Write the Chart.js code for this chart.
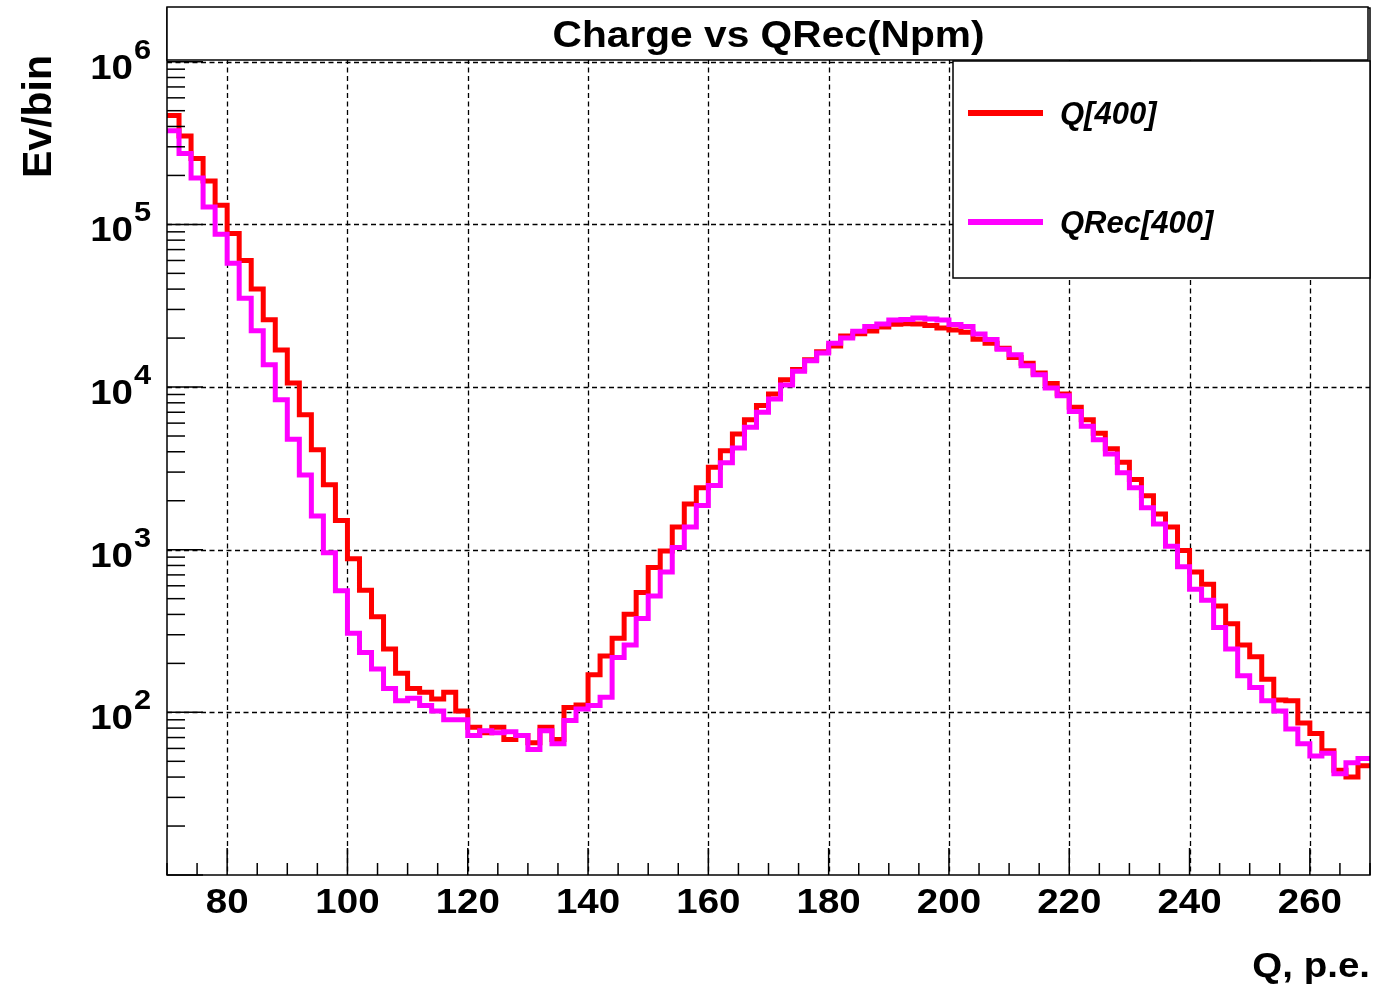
<!DOCTYPE html>
<html>
<head>
<meta charset="utf-8">
<title>Charge vs QRec(Npm)</title>
<script src="https://cdn.jsdelivr.net/npm/chart.js@4.4.1/dist/chart.umd.min.js"></script>
<style>
  html, body { margin: 0; padding: 0; background: #fff; }
  #wrap { position: relative; width: 1384px; height: 990px; }
</style>
</head>
<body>
<div id="wrap"><canvas id="chart"></canvas></div>
<script>
// histogram bins: lower edge in p.e., bin width 2
var binEdges = [70, 72, 74, 76, 78, 80, 82, 84, 86, 88, 90, 92, 94, 96, 98, 100, 102, 104, 106, 108,
  110, 112, 114, 116, 118, 120, 122, 124, 126, 128, 130, 132, 134, 136, 138, 140, 142, 144, 146, 148,
  150, 152, 154, 156, 158, 160, 162, 164, 166, 168, 170, 172, 174, 176, 178, 180, 182, 184, 186, 188,
  190, 192, 194, 196, 198, 200, 202, 204, 206, 208, 210, 212, 214, 216, 218, 220, 222, 224, 226, 228,
  230, 232, 234, 236, 238, 240, 242, 244, 246, 248, 250, 252, 254, 256, 258, 260, 262, 264, 266, 268];
var binUpper = 270;

var qValues = [467000, 350000, 254000, 185000, 131000, 88000, 60000, 40000, 25900, 16900,
  10600, 6760, 4120, 2510, 1510, 881, 563, 387, 245, 174,
  140, 133, 121, 133, 102, 81, 75, 81, 68, 72,
  65, 81, 68, 107, 111, 170, 222, 285, 401, 545,
  776, 983, 1380, 1910, 2400, 3210, 4060, 5150, 6300, 7700,
  9050, 11100, 12800, 14700, 16500, 17900, 20600, 21300, 22100, 23400,
  24300, 24500, 24400, 23900, 23100, 22400, 21700, 19700, 18600, 17300,
  15200, 14000, 12200, 10500, 9060, 7500, 6300, 5200, 4170, 3450,
  2700, 2150, 1660, 1380, 990, 730, 613, 451, 351, 259,
  220, 160, 119, 118, 86, 74, 58, 44, 40, 47];

var qRecValues = [376000, 273000, 193000, 128000, 87000, 57700, 35200, 22200, 13700, 8350,
  4780, 2880, 1610, 959, 559, 306, 233, 185, 140, 118,
  122, 110, 102, 90, 90, 72, 77, 75, 76, 72,
  59, 77, 64, 89, 105, 110, 124, 217, 259, 378,
  520, 730, 1030, 1380, 1870, 2480, 3420, 4220, 5660, 7000,
  8430, 10300, 12500, 14500, 16200, 18600, 20000, 22000, 23600, 24400,
  25800, 26000, 26600, 26200, 25800, 24200, 23600, 21200, 19600, 17100,
  15800, 13500, 11900, 9870, 8850, 7080, 5740, 4750, 3880, 2970,
  2400, 1810, 1440, 1050, 785, 571, 489, 332, 245, 168,
  142, 118, 102, 79, 64, 54, 56, 42, 49, 52];

var seriesNames = ["Q[400]", "QRec[400]"];
var xTickLabels = [80, 100, 120, 140, 160, 180, 200, 220, 240, 260];
var yDecadeExps = [2, 3, 4, 5, 6];

var X_MIN = 70, X_MAX = 270, Y_MIN = 10, Y_MAX = 2.14e6;
var RED = "#ff0000", MAGENTA = "#ff00ff";
var FONT = "'Liberation Sans', Arial, Helvetica, sans-serif";
var SX = 1.1; // reference text is a bit wider than Liberation at the same cap height

function stepPoints(values) {
  var pts = binEdges.map(function (x, i) { return { x: x, y: values[i] }; });
  pts.push({ x: binUpper, y: values[values.length - 1] });
  return pts;
}

function text(ctx, s, x, y, size, align, sx, style) {
  ctx.save();
  ctx.font = (style || "bold") + " " + size + "px " + FONT;
  ctx.textAlign = align;
  ctx.textBaseline = "alphabetic";
  ctx.translate(x, y);
  ctx.scale(sx, 1);
  ctx.fillStyle = "#000";
  ctx.fillText(s, 0, 0);
  ctx.restore();
}

function hline(ctx, x1, x2, y) {
  ctx.beginPath(); ctx.moveTo(x1, y); ctx.lineTo(x2, y); ctx.stroke();
}
function vline(ctx, x, y1, y2) {
  ctx.beginPath(); ctx.moveTo(x, y1); ctx.lineTo(x, y2); ctx.stroke();
}

var rootFrame = {
  id: "rootFrame",
  beforeDatasetsDraw: function (chart) {
    var ctx = chart.ctx, a = chart.chartArea;
    var xs = chart.scales.x, ys = chart.scales.y;
    ctx.save();
    ctx.strokeStyle = "#000";
    ctx.lineWidth = 1.3;
    ctx.setLineDash([5, 3.5]);
    xTickLabels.forEach(function (v) {
      var px = Math.round(xs.getPixelForValue(v)) + 0.5;
      vline(ctx, px, a.top, a.bottom);
    });
    yDecadeExps.forEach(function (e) {
      var py = Math.round(ys.getPixelForValue(Math.pow(10, e))) + 0.5;
      hline(ctx, a.left, a.right, py);
    });
    ctx.restore();
  },
  afterDraw: function (chart) {
    var ctx = chart.ctx, a = chart.chartArea;
    var xs = chart.scales.x, ys = chart.scales.y;
    ctx.save();
    ctx.strokeStyle = "#000";
    ctx.lineWidth = 1.5;

    // x ticks: major every 20, minor every 5
    for (var v = X_MIN; v <= X_MAX; v += 5) {
      var px = xs.getPixelForValue(v);
      var major = xTickLabels.indexOf(v) >= 0;
      vline(ctx, px, a.bottom, a.bottom - (major ? 27 : 12));
    }
    // y ticks: decades long, 2..9 short
    for (var e = 1; e <= 6; e++) {
      for (var m = 1; m <= 9; m++) {
        var val = m * Math.pow(10, e);
        if (val < Y_MIN || val > Y_MAX) continue;
        var py = ys.getPixelForValue(val);
        hline(ctx, a.left, a.left + (m === 1 ? 36 : 18), py);
      }
    }

    // frame
    ctx.strokeRect(a.left, a.top, a.right - a.left, a.bottom - a.top);

    // title box
    ctx.fillStyle = "#fff";
    ctx.fillRect(a.left, 7, 1368 - a.left, 53);
    ctx.strokeRect(a.left, 7, 1368 - a.left, 53);
    text(ctx, "Charge vs QRec(Npm)", (a.left + a.right) / 2, 47, 37, "center", SX);

    // legend box
    ctx.fillStyle = "#fff";
    ctx.fillRect(953, 61, a.right - 953, 217);
    ctx.strokeRect(953, 61, a.right - 953, 217);
    ctx.lineWidth = 6;
    ctx.strokeStyle = RED;
    hline(ctx, 968, 1043, 113);
    ctx.strokeStyle = MAGENTA;
    hline(ctx, 968, 1043, 222);
    text(ctx, seriesNames[0], 1060, 124, 31, "left", 1, "italic bold");
    text(ctx, seriesNames[1], 1060, 233, 31, "left", 1, "italic bold");

    // x tick labels
    xTickLabels.forEach(function (v) {
      text(ctx, String(v), xs.getPixelForValue(v), 913, 35, "center", SX);
    });
    // y tick labels 10^n
    yDecadeExps.forEach(function (e) {
      var py = ys.getPixelForValue(Math.pow(10, e));
      text(ctx, "10", 133, py + 17, 35, "right", SX);
      text(ctx, String(e), 134, py - 3, 28, "left", SX);
    });

    // axis titles
    text(ctx, "Q, p.e.", a.right, 977, 35, "right", SX);
    ctx.save();
    ctx.translate(51, 55);
    ctx.rotate(-Math.PI / 2);
    text(ctx, "Ev/bin", 0, 0, 41, "right", 1);
    ctx.restore();
    ctx.restore();
  }
};

new Chart(document.getElementById("chart"), {
  type: "line",
  data: {
    datasets: [
      {
        label: seriesNames[0],
        data: stepPoints(qValues),
        borderColor: RED,
        borderWidth: 5,
        stepped: true,
        pointRadius: 0,
        fill: false,
        order: 1
      },
      {
        label: seriesNames[1],
        data: stepPoints(qRecValues),
        borderColor: MAGENTA,
        borderWidth: 5,
        stepped: true,
        pointRadius: 0,
        fill: false,
        order: 0
      }
    ]
  },
  options: {
    responsive: true,
    maintainAspectRatio: false,
    animation: false,
    events: [],
    layout: { padding: { left: 167, right: 14, top: 8, bottom: 115 } },
    plugins: { legend: { display: false }, tooltip: { enabled: false } },
    scales: {
      x: { type: "linear", min: X_MIN, max: X_MAX, display: false },
      y: { type: "logarithmic", min: Y_MIN, max: Y_MAX, display: false }
    }
  },
  plugins: [rootFrame]
});
</script>
</body>
</html>
